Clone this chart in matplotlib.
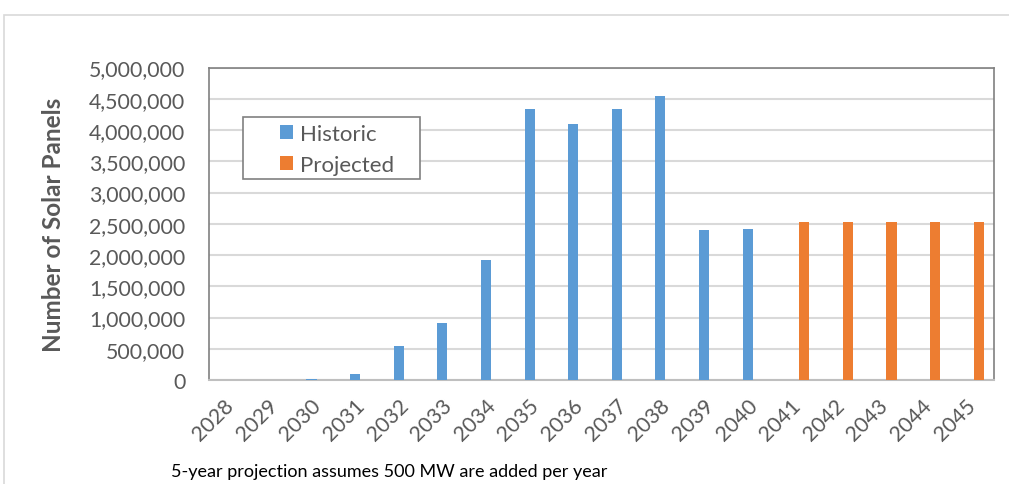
import matplotlib
matplotlib.use("Agg")
import matplotlib.pyplot as plt
import numpy as np
from matplotlib.patches import Rectangle
from matplotlib.ticker import FuncFormatter

years = [str(y) for y in range(2028, 2046)]
historic = [8000, 0, 18000, 96000, 550000, 920000, 1925000, 4335000, 4095000,
            4335000, 4552000, 2405000, 2415000, 0, 0, 0, 0, 0]
projected = [0]*13 + [2525000, 2525000, 2525000, 2525000, 2525000]

plt.rcParams['font.family'] = ['Lato', 'DejaVu Sans']
W, H = 1009, 485
fig = plt.figure(figsize=(W/100, H/100), dpi=100)
ax = fig.add_axes([209/W, 1-381/H, (994-209)/W, (381-68.5)/H])

# outer chart border
fig.patches.append(Rectangle((4/W, -0.1), 1.2, 1-16/H+0.1, transform=fig.transFigure,
                             fill=False, edgecolor='#d9d9d9', linewidth=1.2))

x = np.arange(len(years))
bw = 0.23
off = 0.15
hist_c = '#5b9bd5'
proj_c = '#ed7d31'
ax.bar(x - off, historic, bw, color=hist_c, label='Historic', zorder=3)
ax.bar(x + off, projected, bw, color=proj_c, label='Projected', zorder=3)

ax.set_xlim(-0.5, len(years) - 0.5)
ax.set_ylim(0, 5000000)
ax.set_yticks(np.arange(0, 5000001, 500000))
ax.yaxis.set_major_formatter(FuncFormatter(lambda v, p: f"{int(v):,}"))
ax.grid(axis='y', color='#d9d9d9', linewidth=1.5, zorder=0)
ax.set_axisbelow(True)

for s in ['left', 'top', 'right']:
    ax.spines[s].set_color('#808080')
    ax.spines[s].set_linewidth(1.2)
ax.spines['bottom'].set_color('#bfbfbf')
ax.spines['bottom'].set_linewidth(1.5)

ax.set_xticks(x)
ax.set_xticklabels(years, rotation=45, ha='right', va='center', rotation_mode='anchor')
ax.tick_params(axis='both', length=0, labelsize=15.3, labelcolor='#595959')
ax.tick_params(axis='x', pad=16)
ax.tick_params(axis='y', pad=17)

ax.set_ylabel('Number of Solar Panels', fontsize=17.5, fontweight='bold',
              color='#595959', labelpad=17)

# legend box (drawn manually for Excel-like padding)
lx0, ly0, lx1, ly1 = 243, 118, 420, 180
fig.patches.append(Rectangle((lx0/W, 1-ly1/H), (lx1-lx0)/W, (ly1-ly0)/H,
                             transform=fig.transFigure, facecolor='white',
                             edgecolor='#808080', linewidth=1.2, zorder=5))
leg = fig.legend(*ax.get_legend_handles_labels(), loc='upper left',
                 bbox_to_anchor=(280/W, 1-125/H), bbox_transform=fig.transFigure,
                 fontsize=16, frameon=False, handlelength=0.6,
                 handleheight=0.6, handletextpad=0.32, borderpad=0, labelspacing=0.5,
                 borderaxespad=0)
leg.set_zorder(6)
for t in leg.get_texts():
    t.set_color('#595959')

fig.text(171/W, 1-472/H, '5-year projection assumes 500 MW are added per year',
         fontsize=13, color='black', va='center', ha='left')

fig.savefig('out.png', dpi=100)
